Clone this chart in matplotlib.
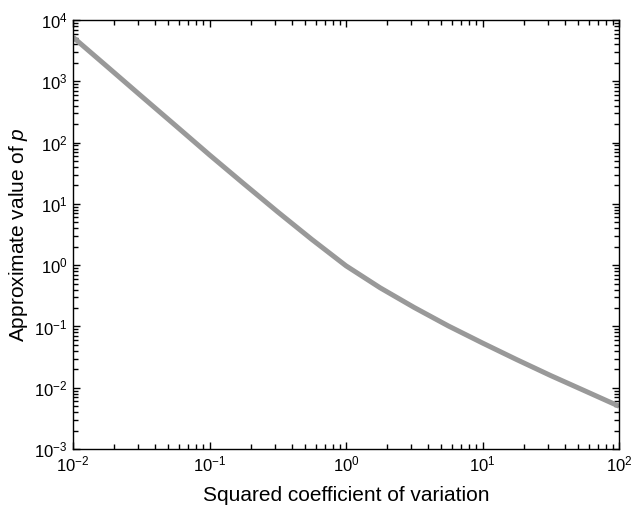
import numpy as np
import matplotlib
matplotlib.use('Agg')
import matplotlib.pyplot as plt
from matplotlib.ticker import NullFormatter

plt.rcParams['font.family'] = ['Liberation Sans', 'DejaVu Sans']
plt.rcParams['mathtext.fontset'] = 'custom'
plt.rcParams['mathtext.rm'] = 'Liberation Sans'
plt.rcParams['mathtext.it'] = 'Liberation Sans:italic'

# values (log-log), quarter-decade steps
scv = [0.01, 0.0178, 0.0316, 0.0562, 0.1, 0.178, 0.316, 0.562, 1.0,
       1.78, 3.16, 5.62, 10.0, 17.8, 31.6, 56.2, 100.0]
p_approx = [5248, 1738, 575, 191, 63, 21.4, 7.4, 2.63, 0.977,
            0.427, 0.204, 0.102, 0.0537, 0.0288, 0.0158, 0.0089, 0.0050]

x_decades = [-2, -1, 0, 1, 2]
y_decades = [-3, -2, -1, 0, 1, 2, 3, 4]

fig = plt.figure(figsize=(6.33, 5.08), dpi=100)
ax = fig.add_axes([0.1153, 0.116, 0.8627, 0.8446])

ax.loglog(scv, p_approx, color='#999999', linewidth=3.6, solid_capstyle='butt')

ax.set_xlim(1e-2, 1e2)
ax.set_ylim(1e-3, 1e4)
ax.set_xticks([10.0**d for d in x_decades])
ax.set_yticks([10.0**d for d in y_decades])
ax.set_xticks([k * 10.0**d for d in x_decades[:-1] for k in range(2, 10)], minor=True)
ax.set_yticks([k * 10.0**d for d in y_decades[:-1] for k in range(2, 10)], minor=True)
ax.xaxis.set_minor_formatter(NullFormatter())
ax.yaxis.set_minor_formatter(NullFormatter())

ax.tick_params(which='major', direction='in', top=True, right=True,
               labelsize=12, pad=4, length=5, width=1.0)
ax.tick_params(which='minor', direction='in', top=True, right=True,
               length=3.5, width=1.0)
for s in ax.spines.values():
    s.set_linewidth(1.0)

ax.set_xlabel('Squared coefficient of variation', fontsize=15, labelpad=8)
ax.set_ylabel('Approximate value of $p$', fontsize=15, labelpad=3)

fig.savefig('out.png', dpi=100)
